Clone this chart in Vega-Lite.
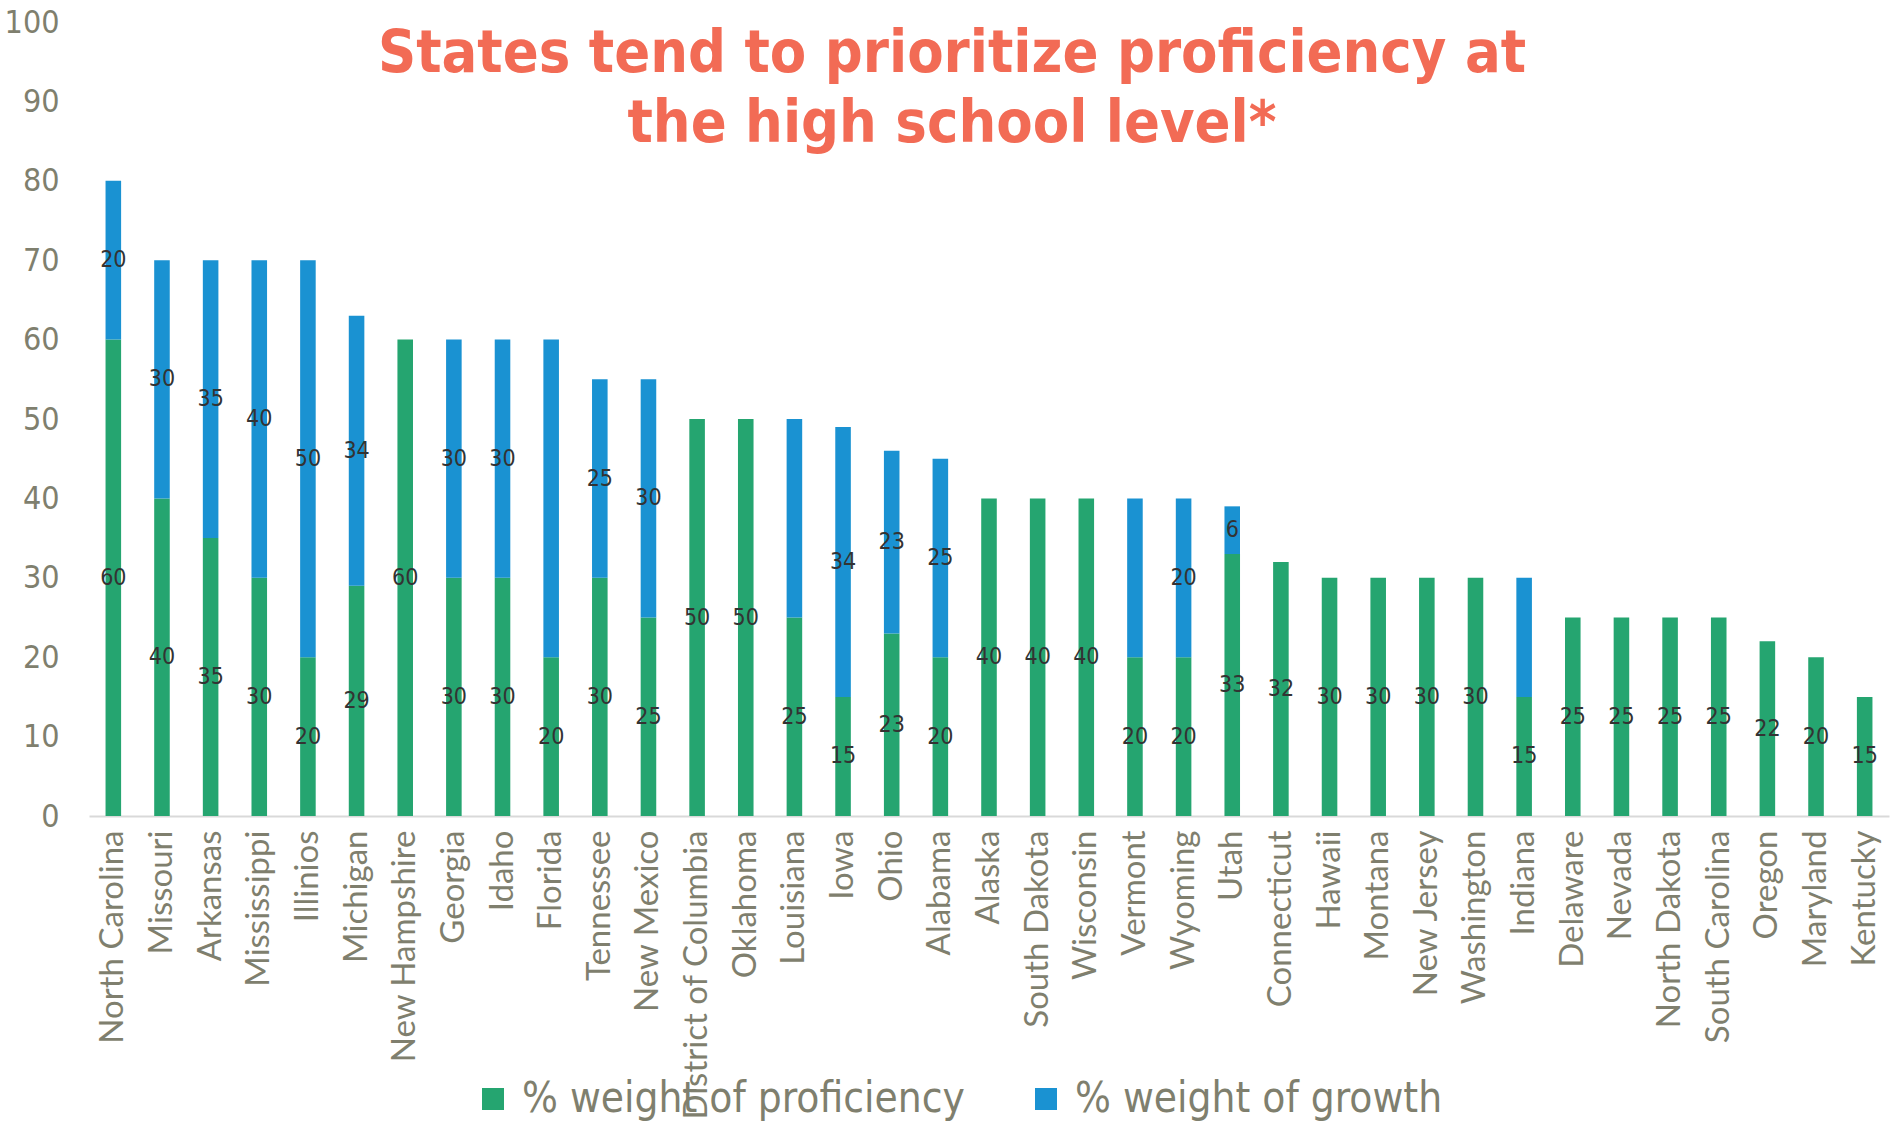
{
  "$schema": "https://vega.github.io/schema/vega-lite/v6.json",
  "autosize": "none",
  "width": 1800,
  "height": 794,
  "padding": {"left": 89, "top": 22, "right": 2, "bottom": 310},
  "background": "white",
  "title": {
    "text": ["States tend to prioritize proficiency at", "the high school level*"],
    "anchor": "middle",
    "frame": "group",
    "dx": -37,
    "offset": -148,
    "font": "Liberation Sans Narrow, DejaVu Sans Condensed, Lato, sans-serif",
    "fontSize": 59,
    "fontWeight": "bold",
    "lineHeight": 70,
    "color": "#F26B55"
  },
  "config": {
    "view": {"stroke": null},
    "font": "Liberation Sans Narrow, DejaVu Sans Condensed, Lato, sans-serif"
  },
  "data": {
    "values": [
      {"state": "North Carolina", "measure": "% weight of proficiency", "value": 60, "shown": true},
      {"state": "North Carolina", "measure": "% weight of growth", "value": 20, "shown": true},
      {"state": "Missouri", "measure": "% weight of proficiency", "value": 40, "shown": true},
      {"state": "Missouri", "measure": "% weight of growth", "value": 30, "shown": true},
      {"state": "Arkansas", "measure": "% weight of proficiency", "value": 35, "shown": true},
      {"state": "Arkansas", "measure": "% weight of growth", "value": 35, "shown": true},
      {"state": "Mississippi", "measure": "% weight of proficiency", "value": 30, "shown": true},
      {"state": "Mississippi", "measure": "% weight of growth", "value": 40, "shown": true},
      {"state": "Illinios", "measure": "% weight of proficiency", "value": 20, "shown": true},
      {"state": "Illinios", "measure": "% weight of growth", "value": 50, "shown": true},
      {"state": "Michigan", "measure": "% weight of proficiency", "value": 29, "shown": true},
      {"state": "Michigan", "measure": "% weight of growth", "value": 34, "shown": true},
      {"state": "New Hampshire", "measure": "% weight of proficiency", "value": 60, "shown": true},
      {"state": "Georgia", "measure": "% weight of proficiency", "value": 30, "shown": true},
      {"state": "Georgia", "measure": "% weight of growth", "value": 30, "shown": true},
      {"state": "Idaho", "measure": "% weight of proficiency", "value": 30, "shown": true},
      {"state": "Idaho", "measure": "% weight of growth", "value": 30, "shown": true},
      {"state": "Florida", "measure": "% weight of proficiency", "value": 20, "shown": true},
      {"state": "Florida", "measure": "% weight of growth", "value": 40, "shown": false},
      {"state": "Tennessee", "measure": "% weight of proficiency", "value": 30, "shown": true},
      {"state": "Tennessee", "measure": "% weight of growth", "value": 25, "shown": true},
      {"state": "New Mexico", "measure": "% weight of proficiency", "value": 25, "shown": true},
      {"state": "New Mexico", "measure": "% weight of growth", "value": 30, "shown": true},
      {"state": "District of Columbia", "measure": "% weight of proficiency", "value": 50, "shown": true},
      {"state": "Oklahoma", "measure": "% weight of proficiency", "value": 50, "shown": true},
      {"state": "Louisiana", "measure": "% weight of proficiency", "value": 25, "shown": true},
      {"state": "Louisiana", "measure": "% weight of growth", "value": 25, "shown": false},
      {"state": "Iowa", "measure": "% weight of proficiency", "value": 15, "shown": true},
      {"state": "Iowa", "measure": "% weight of growth", "value": 34, "shown": true},
      {"state": "Ohio", "measure": "% weight of proficiency", "value": 23, "shown": true},
      {"state": "Ohio", "measure": "% weight of growth", "value": 23, "shown": true},
      {"state": "Alabama", "measure": "% weight of proficiency", "value": 20, "shown": true},
      {"state": "Alabama", "measure": "% weight of growth", "value": 25, "shown": true},
      {"state": "Alaska", "measure": "% weight of proficiency", "value": 40, "shown": true},
      {"state": "South Dakota", "measure": "% weight of proficiency", "value": 40, "shown": true},
      {"state": "Wisconsin", "measure": "% weight of proficiency", "value": 40, "shown": true},
      {"state": "Vermont", "measure": "% weight of proficiency", "value": 20, "shown": true},
      {"state": "Vermont", "measure": "% weight of growth", "value": 20, "shown": false},
      {"state": "Wyoming", "measure": "% weight of proficiency", "value": 20, "shown": true},
      {"state": "Wyoming", "measure": "% weight of growth", "value": 20, "shown": true},
      {"state": "Utah", "measure": "% weight of proficiency", "value": 33, "shown": true},
      {"state": "Utah", "measure": "% weight of growth", "value": 6, "shown": true},
      {"state": "Connecticut", "measure": "% weight of proficiency", "value": 32, "shown": true},
      {"state": "Hawaii", "measure": "% weight of proficiency", "value": 30, "shown": true},
      {"state": "Montana", "measure": "% weight of proficiency", "value": 30, "shown": true},
      {"state": "New Jersey", "measure": "% weight of proficiency", "value": 30, "shown": true},
      {"state": "Washington", "measure": "% weight of proficiency", "value": 30, "shown": true},
      {"state": "Indiana", "measure": "% weight of proficiency", "value": 15, "shown": true},
      {"state": "Indiana", "measure": "% weight of growth", "value": 15, "shown": false},
      {"state": "Delaware", "measure": "% weight of proficiency", "value": 25, "shown": true},
      {"state": "Nevada", "measure": "% weight of proficiency", "value": 25, "shown": true},
      {"state": "North Dakota", "measure": "% weight of proficiency", "value": 25, "shown": true},
      {"state": "South Carolina", "measure": "% weight of proficiency", "value": 25, "shown": true},
      {"state": "Oregon", "measure": "% weight of proficiency", "value": 22, "shown": true},
      {"state": "Maryland", "measure": "% weight of proficiency", "value": 20, "shown": true},
      {"state": "Kentucky", "measure": "% weight of proficiency", "value": 15, "shown": true}
    ]
  },
  "transform": [
    {"stack": "value", "groupby": ["state"], "sort": [{"field": "measure", "order": "descending"}], "as": ["v0", "v1"]}
  ],
  "encoding": {
    "x": {
      "field": "state",
      "type": "nominal",
      "sort": null,
      "scale": {"paddingInner": 0, "paddingOuter": 0},
      "axis": {
        "title": null,
        "labelAngle": -90,
        "labelFontSize": 33,
        "labelFont": "Lato, sans-serif",
        "labelColor": "#7F7F6E",
        "labelPadding": 14,
        "ticks": false,
        "domainColor": "#D9D9D9",
        "domainWidth": 2,
        "labelLimit": 400
      }
    }
  },
  "layer": [
    {
      "mark": {"type": "bar", "width": {"band": 0.32}},
      "encoding": {
        "y": {
          "field": "v0",
          "type": "quantitative",
          "scale": {"domain": [0, 100], "nice": false},
          "axis": {
            "title": null,
            "values": [0, 10, 20, 30, 40, 50, 60, 70, 80, 90, 100],
            "grid": false,
            "ticks": false,
            "domain": false,
            "labelFontSize": 32,
            "labelColor": "#7F7F6E",
            "labelPadding": 30
          }
        },
        "y2": {"field": "v1"},
        "color": {
          "field": "measure",
          "type": "nominal",
          "scale": {
            "domain": ["% weight of proficiency", "% weight of growth"],
            "range": ["#25A570", "#1A92D2"]
          },
          "legend": {
            "title": null,
            "orient": "none",
            "direction": "horizontal",
            "legendX": 383,
            "legendY": 1056,
            "symbolType": "square",
            "symbolSize": 484,
            "symbolStrokeWidth": 0,
            "labelFontSize": 42,
            "labelColor": "#7F7F6E",
            "labelOffset": 8,
            "columnPadding": 60,
            "padding": 0,
            "labelLimit": 600
          }
        }
      }
    },
    {
      "transform": [
        {"filter": "datum.shown"},
        {"fold": ["v0", "v1"], "as": ["edge", "pos"]}
      ],
      "mark": {"type": "text", "fontSize": 23, "color": "#333333", "align": "center", "baseline": "middle"},
      "encoding": {
        "y": {"field": "pos", "type": "quantitative", "aggregate": "mean"},
        "detail": {"field": "measure"},
        "text": {"field": "value", "type": "quantitative", "aggregate": "max"}
      }
    }
  ]
}
